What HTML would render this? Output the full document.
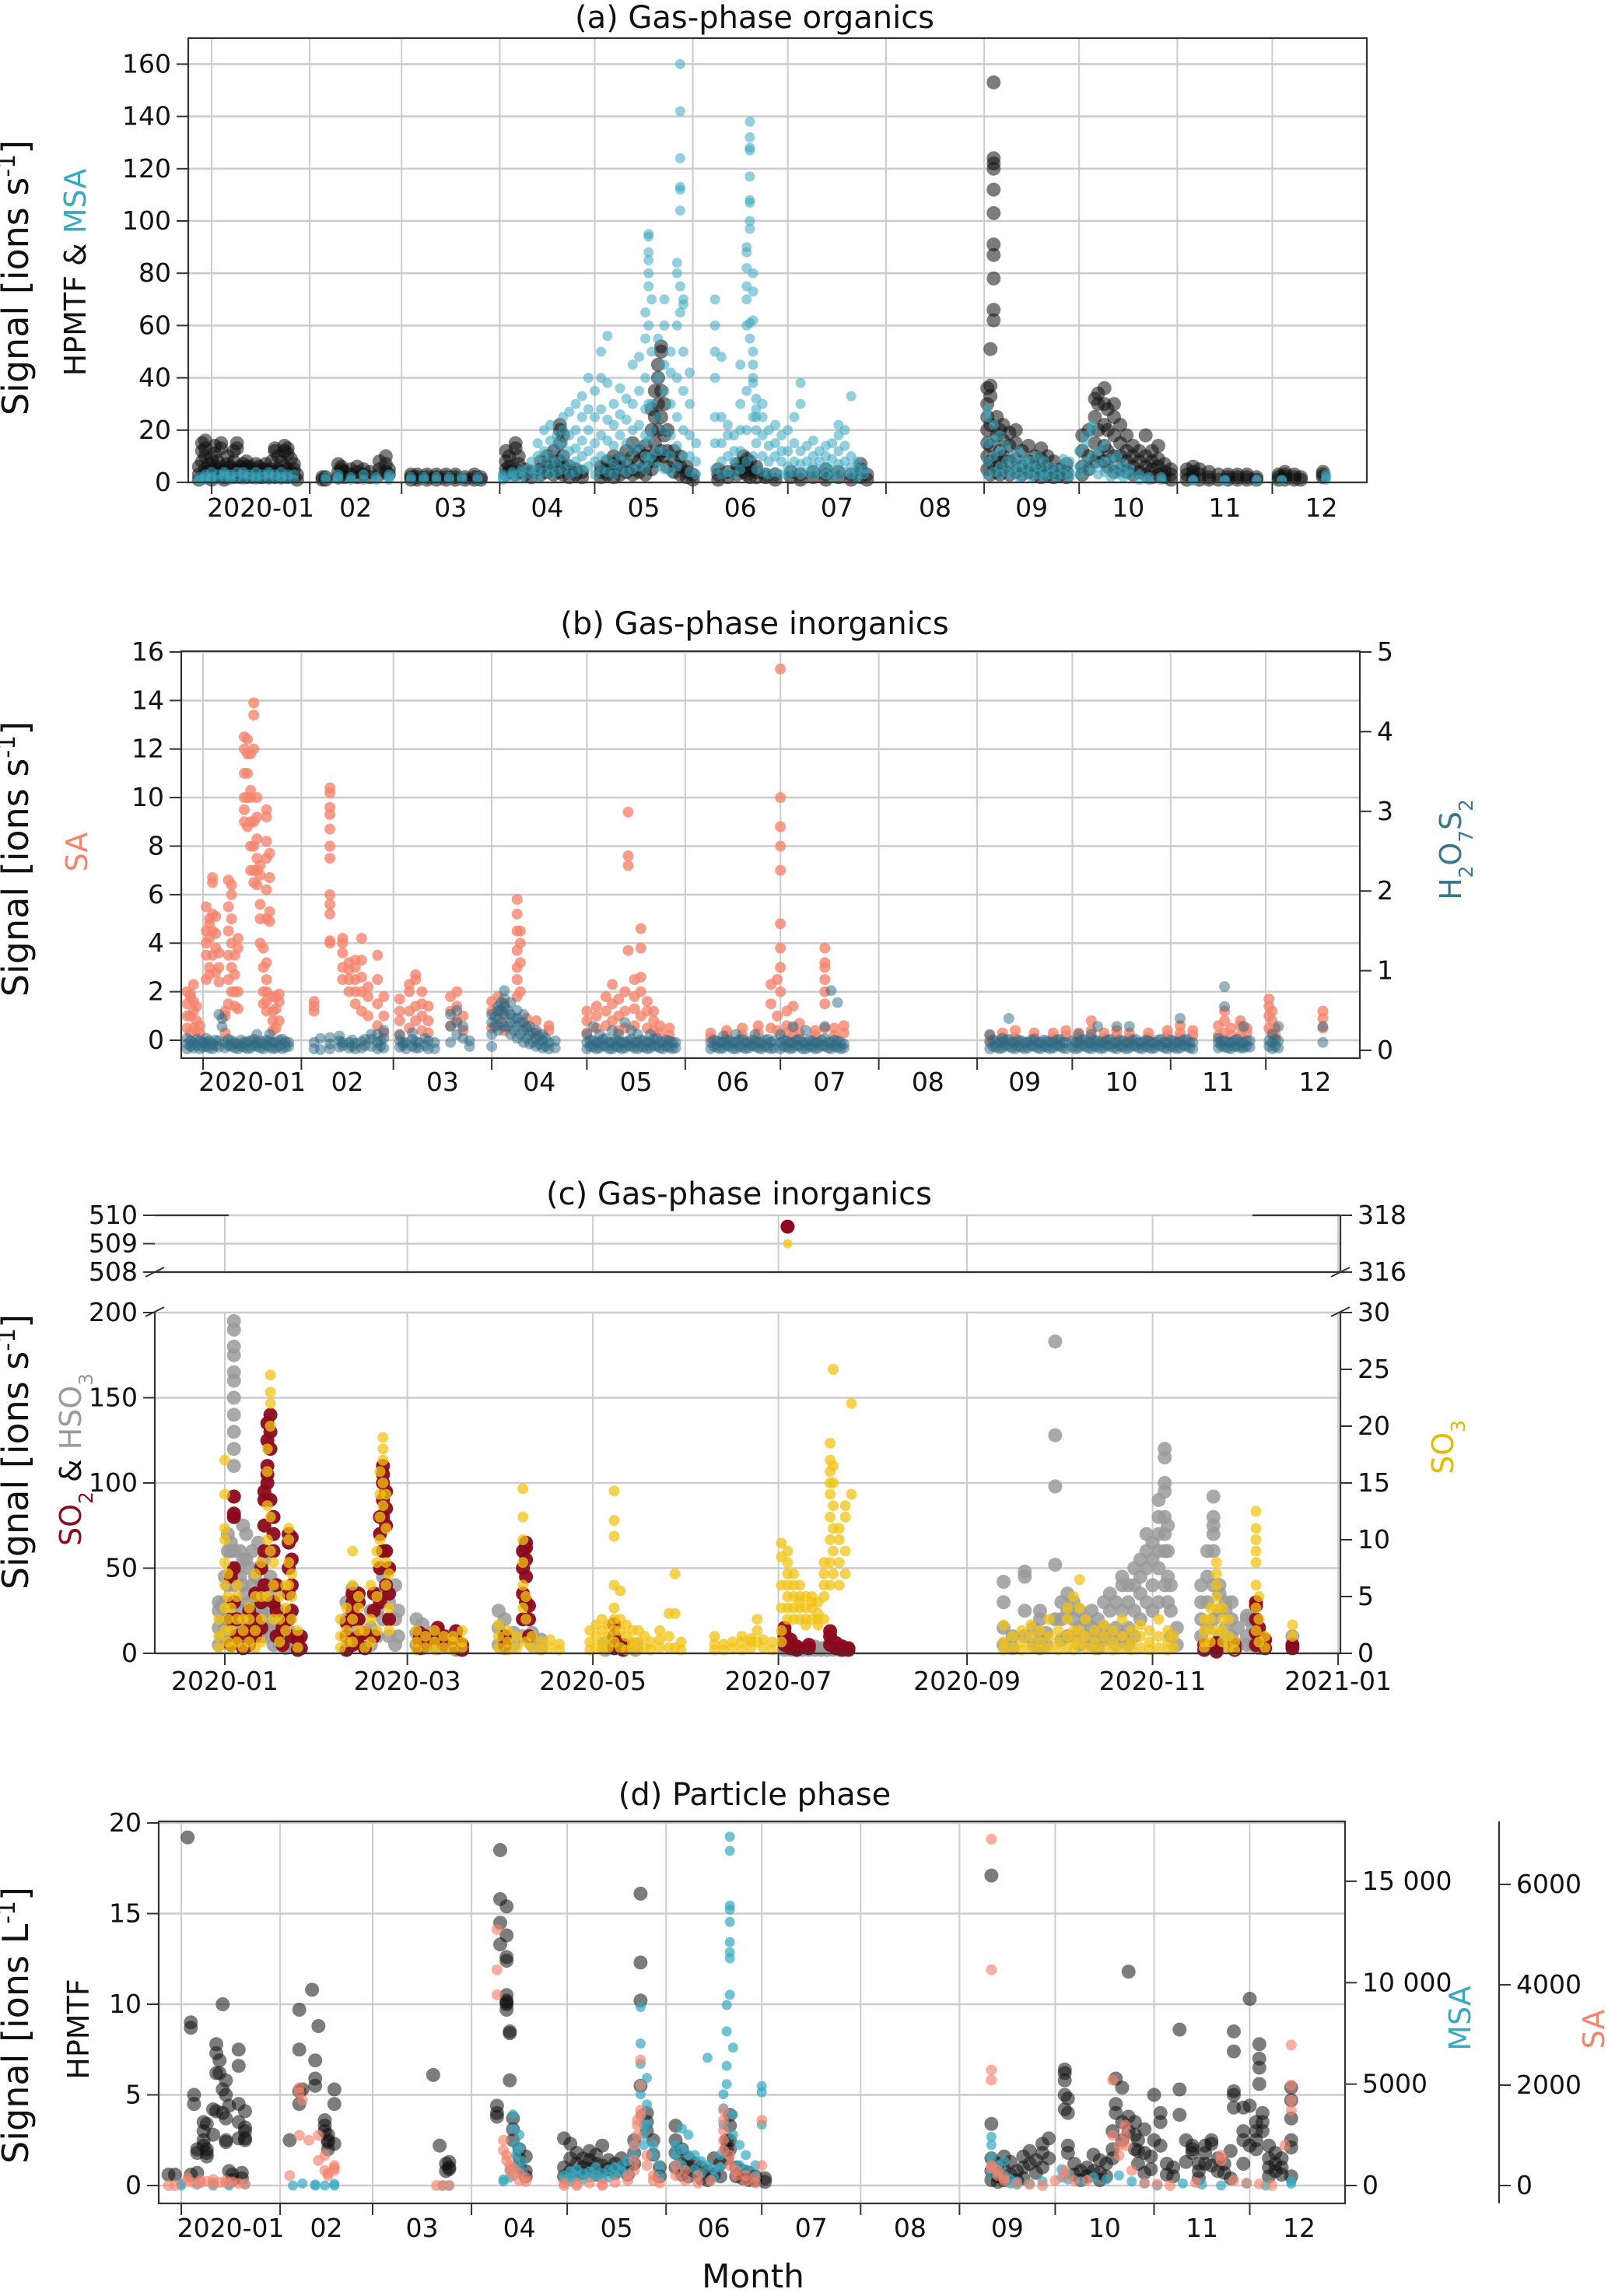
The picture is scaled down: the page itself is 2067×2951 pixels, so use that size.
<!DOCTYPE html>
<html><head><meta charset="utf-8"><style>
html,body{margin:0;padding:0;background:#fff;}
svg{display:block;font-family:"DejaVu Sans","Liberation Sans",sans-serif;}
</style></head><body>
<svg id="fig" width="2067" height="2951" viewBox="0 0 2067 2951" xmlns="http://www.w3.org/2000/svg">
<g id="grid"></g><g id="marks"></g><g id="axes"></g>
</svg>
<script>
// ===== Data (day = days since 2020-01-01) =====
const monthStarts = [0,31,60,91,121,152,182,213,244,274,305,335,366];
const monthLabels = ["2020-01","02","03","04","05","06","07","08","09","10","11","12"];
const cTickDays = [0,60,121,182,244,305,366];
const cTickLabels = ["2020-01","2020-03","2020-05","2020-07","2020-09","2020-11","2021-01"];
const aTicks = [0,20,40,60,80,100,120,140,160];
const bTicks = [0,2,4,6,8,10,12,14,16];
const bRightTicks = [0,1,2,3,4,5];
const cTicks = [0,50,100,150,200];
const cRightTicks = [0,5,10,15,20,25,30];
const cUpperTicks = [508,509,510];
const cUpperRightTicks = [316,318];
const dTicks = [0,5,10,15,20];
const dMsaTicks = [0,5000,10000,15000];
const dMsaTickLabels = ["0","5000","10 000","15 000"];
const dSaTicks = [0,2000,4000,6000];

// Panel (a)
const hpmtfA = [[-4,[1,3,6]],[-3,[2,8,12,15]],[-2,[3,5,10,16,13]],[-1,[2,4,7]],[0,[1,3,5,9]],[1,[2,4,6,11,14]],[2,[3,5,8]],[3,[2,4,6,13,15]],[4,[1,3,5]],[5,[2,4,7,10]],[6,[3,5,6]],[7,[2,4,8,12]],[8,[3,5,15,13]],[9,[2,4,6]],[10,[3,5,7]],[11,[2,4,6,8]],[12,[3,5,6]],[13,[2,4]],[14,[3,5,7]],[15,[2,4,6]],[16,[2,3,5]],[17,[3,5,7]],[18,[2,4]],[19,[3,5,8]],[20,[2,4,13,12]],[21,[3,5,10]],[22,[2,4,8]],[23,[3,6,12,14]],[24,[2,5,11,13]],[25,[3,4,9]],[26,[2,5,7]],[27,[1,3]],
[35,[1,2]],[36,[1,2]],[40,[2,4,7]],[41,[3,5,6]],[42,[2,4]],[44,[3,5]],[46,[2,4,6]],[48,[3,5]],[50,[2,4]],[53,[3,5,8]],[55,[4,7,10]],[56,[3,5]],
[63,[1,2,3]],[65,[1,2,3]],[68,[1,2,3]],[71,[1,2,3]],[74,[1,2,3]],[77,[1,2,3]],[80,[1,2]],[83,[1,2,3]],[85,[1,2]],
[93,[3,5,8,12]],[94,[4,6,10]],[96,[3,5,13,15]],[97,[4,7,10]],[99,[3,5]],[101,[2,4]],[104,[3,5,8]],[106,[4,6,10]],[108,[3,5,8,12]],[110,[4,8,15,20,22]],[111,[3,6,10,18]],[113,[2,4,6]],[115,[3,5]],[117,[2,4]],
[123,[2,4,6]],[125,[3,5,8]],[127,[2,4,7,10]],[129,[3,6,9]],[131,[4,7,12]],[133,[3,5,10,15]],[135,[4,8,12]],[137,[3,6,10,14]],[139,[5,10,20,28]],[140,[8,15,25,35]],[141,[10,20,30,40,45]],[142,[12,25,35,50,52]],[143,[10,18,30]],[144,[6,12,20]],[146,[4,8,12]],[148,[3,6,10]],[150,[2,4,6]],[152,[1,3]],
[160,[1,3,5]],[163,[2,4]],[166,[3,5,7]],[168,[4,7,10]],[169,[3,6,9]],[170,[2,5,8]],[172,[2,4,6]],[175,[2,3]],[178,[1,3]],
[183,[2,4]],[186,[1,3]],[190,[2,4]],[194,[1,3,5]],[198,[2,4]],[202,[1,3]],[205,[2,5,7]],[207,[1,3]],
[245,[5,10,15,20,25,30,36]],[246,[3,8,14,22,33,37,51]],[247,[62,66,78,87,91,103,112,120,122,124,153]],[248,[4,9,18,25]],[249,[3,7,12,20]],[250,[5,10,16,22]],[252,[3,8,14,19]],[254,[4,9,15,20]],[256,[3,6,12]],[258,[4,8,14]],[260,[3,6,10]],[262,[2,5,9,13]],[264,[3,6,10]],[266,[2,4,8]],[268,[3,5]],[270,[2,4,7]],
[275,[3,6,12,18]],[277,[5,10,20]],[279,[8,15,25,32]],[280,[10,20,30,34]],[282,[8,14,22,30,36]],[283,[6,12,20,28]],[285,[4,10,18,25,30]],[287,[5,10,15,22]],[289,[4,8,12,18]],[291,[3,6,10,14]],[293,[4,8,12]],[295,[3,6,10,18]],[297,[2,5,8,12]],[299,[3,6,9,14]],[301,[2,4,7]],[303,[1,3,5]],
[308,[1,3,5]],[310,[2,4,6]],[312,[1,3,5]],[315,[1,2,4]],[318,[1,3]],[321,[1,2,3]],[324,[1,2,3]],[327,[1,2,3]],[330,[1,2]],
[337,[1,2,3]],[339,[1,2,3,4]],[342,[1,2,3]],[344,[1,2]],[351,[2,3,4]]];
const msaA = [[-4,[0.5,1,2]],[-2,[1,2,3]],[0,[1,2,4]],[2,[1,3]],[4,[2,3,4]],[6,[1,2,3]],[8,[2,4]],[10,[1,3,4]],[12,[2,3]],[14,[1,2,4]],[16,[2,3]],[18,[1,3,4]],[20,[2,3]],[22,[1,2,4]],[24,[2,3]],[26,[1,3]],
[36,[1,2]],[40,[1,2,3]],[44,[1,2]],[48,[1,3]],[52,[1,2]],[56,[1,2,3]],
[63,[1,2]],[67,[1,2]],[71,[1,2]],[75,[1,2]],[79,[1,2]],[84,[1,2]],
[92,[1,2,3]],[95,[2,3,4]],[98,[2,4,5]],[101,[3,5,8]],[103,[2,5,10,15]],[105,[4,8,12,20]],[107,[3,6,10,16,22]],[109,[4,8,14,18]],[111,[5,10,15,20,25]],[113,[3,7,12,18,27]],[115,[4,8,13,20,30]],[117,[5,10,16,25,33]],[119,[6,12,20,28,40]],
[121,[3,8,15,25,35]],[123,[5,10,18,28,40,50]],[125,[4,9,16,24,38,56]],[127,[3,7,14,22,30]],[129,[5,10,18,26,36]],[131,[4,8,15,24,32]],[133,[5,12,20,30,45]],[135,[6,14,22,35,48]],[137,[5,10,18,28,40,55,65]],[138,[8,16,30,60,75,80,85,88,95,94]],[139,[10,20,30,50,70]],[141,[6,12,25,40,55]],[143,[5,12,20,35,45,60,70]],[145,[4,10,18,30,42,50]],[147,[6,14,25,40,60,80,84]],[148,[104,112,113,124,142,160,75,65]],[149,[10,20,35,50,68,70]],[151,[4,10,18,30,42]],[153,[3,8,15]],
[159,[5,15,25,40,50,60,70]],[161,[3,8,15,25,48]],[163,[4,10,18,22]],[165,[3,8,12,18]],[167,[5,12,20,30,45]],[169,[8,20,35,60,70,75,82,88,90]],[170,[100,107,108,117,127,128,132,138,97,61,55]],[171,[10,25,40,50,62,73,80,45,38]],[172,[5,15,25,32,28,20]],[174,[4,10,18,25,30]],[176,[3,8,14,20]],[178,[4,10,15,22]],[180,[3,8,12,18]],
[182,[3,6,12,20]],[184,[4,8,15,25]],[186,[3,7,12,38,30]],[188,[4,8,14]],[190,[3,6,10,16]],[192,[4,8,12]],[194,[3,6,10,14]],[196,[2,5,9,15]],[198,[3,7,12,18,22]],[200,[4,8,14,20]],[202,[3,6,10,33]],[204,[2,5,8]],[206,[3,5]],
[245,[3,8,15,25,28]],[247,[4,10,16,22]],[249,[3,6,12,18]],[251,[4,8,14]],[253,[3,6,10]],[255,[2,5,8,12]],[257,[3,6,9]],[259,[2,5,8]],[261,[3,6,10]],[263,[2,4,8]],[265,[3,6]],[267,[2,5]],[269,[3,6,9]],[271,[2,4,8]],
[274,[3,6,12]],[276,[4,8,15,18]],[278,[5,10,20,22]],[280,[3,7,12]],[282,[4,8,14]],[284,[2,5,9]],[286,[3,6,10]],[288,[2,4,7]],[290,[3,5]],[293,[1,3]],[296,[1,2]],[300,[1,2]],
[310,[0.5,1]],[320,[0.5,1]],[330,[0.5,1]],[338,[0.5,1]],[352,[1,2,3]]];

// Panel (b)
const saB = [[-5,[0.5,1,1.5,2]],[-4,[0.3,1,1.8,1.9]],[-3,[0.5,1.2,1.6,2.3]],[-2,[0.4,0.8,1.4]],[-1,[0.3,0.6]],[1,[2.5,3.5,4.5,5.5,4]],[2,[3,4.2,4.8,5,2.7]],[3,[3.5,4.5,6.5,6.7,5.2]],[4,[2.8,3.8,4.4,5.1]],[5,[2.4,3,3.6]],[7,[0.3,1,1.2]],[8,[1.5,2.5,3.5,4.5,5.5,6.6]],[9,[2,3,4,5,6,6.4]],[10,[1.4,2,2.7,3.5]],[11,[1.3,2,3.8,4.2]],[13,[9,10,11,12,12.5,9.5]],[14,[8.8,10,11,11.8,12.4]],[15,[7,8,9,10,10.3,11.8]],[16,[6.5,7,8,9,12,13.4,13.9]],[17,[6.4,7,7.5,8.3,9.2,10]],[18,[4,5,5.6,6.8,7.2]],[19,[1.5,2,3,3.8]],[20,[1.2,1.6,2,2.5,3.2,5,6.2,7.5,8.2,9.2,9.5]],[21,[4.9,5.3,6.7,7.7]],[22,[0.4,0.8,1.2,1.8]],[23,[0.5,1.3,1.8]],[24,[0.8,1.6,1.9]],
[35,[1.2,1.4,1.6]],[40,[4,4.1,5.2,5.6,6,7.5,8,8.7,9.3,9.6,10.2,10.4]],[44,[2.5,3,3.6,4,4.2]],[46,[2,2.5,2.9,3.2]],[48,[1.5,2,2.5,3,3.3]],[50,[1.2,2,2.6,3.3,4.2]],[52,[1,1.8,2.2]],[55,[0.6,1.5,2.5,3.5]],[57,[0.3,1,1.8]],
[62,[0.2,0.8,1.2,1.7]],[65,[0.5,1.2,2,2.3]],[67,[0.8,1.4,2.7,2.5]],[69,[0.4,1,1.5,2]],[71,[0.3,0.8,1.4]],[78,[0.6,1.2,1.8]],[80,[0.8,1.4,2]],[82,[0.4,1]],
[91,[0.5,1.2,1.6]],[93,[0.6,1.2,1.8]],[95,[0.4,1,1.5]],[99,[1.8,2.5,3,3.7,4.5,5.2,5.8]],[100,[2,3.2,4,4.5]],[102,[0.5,0.9]],[105,[0.3,0.8]],[109,[0.4,0.6]],
[121,[0.3,0.8,1.2]],[124,[0.5,1,1.4]],[127,[0.6,1.2,1.8]],[129,[0.8,1.5,2.3]],[131,[0.4,1,1.7]],[133,[0.5,1.2,2]],[134,[3.7,7.2,7.6,9.4]],[136,[0.6,1.3,1.8,2.5]],[138,[1,2,2.6,3.8,4.6]],[140,[0.5,1.2,1.6]],[142,[0.4,0.8,1.2]],[144,[0.3,0.6]],[147,[0.2,0.5]],
[160,[0.1,0.3]],[165,[0.2,0.4]],[170,[0.2,0.5]],[175,[0.3,0.6]],[179,[0.5,1.5,2.3]],[181,[0.4,1,2.5]],
[182,[2,3,3.8,4.8,7,8,8.8,10,15.3]],[184,[0.3,0.6,1.2]],[186,[0.2,0.5,1.4]],[188,[0.3,0.7]],[193,[0.2,0.4]],[196,[0.5,1.5,2,2.5,3,3.2,3.8]],[199,[0.2,0.5]],[202,[0.3,0.6]],
[248,[0,0.2]],[252,[0.1,0.3]],[256,[0.1,0.4]],[262,[0.1,0.3]],[268,[0.1,0.3]],[272,[0.2,0.4]],[276,[0.1,0.3]],[280,[0.1,0.4,0.8]],[284,[0.1,0.3]],[288,[0.2,0.4]],[292,[0.1,0.3]],[298,[0.1,0.3]],[304,[0.2,0.4]],[308,[0.1,0.3,0.6]],[312,[0.2,0.4]],[320,[0.2,0.6]],[322,[0.3,0.8,1.2]],[324,[0.2,0.5]],[327,[0.2,0.6,0.8]],[329,[0.3,0.5]],[336,[0.5,1,1.4,1.7]],[337,[0.3,0.8,1.2]],[338,[0.2,0.5]],[353,[0.5,0.9,1.2]]];
const h2o7s2B = [[-5,[0.02,0.08,0.15]],[-4,[0.05,0.12]],[-3,[0.03,0.1]],[-2,[0.06,0.14]],[-1,[0.02,0.12]],[0,[0.04,0.1]],[1,[0.05,0.1,0.15]],[2,[0.03,0.12]],[3,[0.02,0.08]],[4,[0.06,0.13]],[5,[0.04,0.12,0.45]],[6,[0.3,0.4]],[7,[0.03,0.1]],[8,[0.06,0.14]],[9,[0.05,0.12]],[10,[0.03,0.1]],[11,[0.02,0.08]],[12,[0.05,0.13]],[13,[0.04,0.1]],[14,[0.02,0.11]],[15,[0.03,0.12]],[16,[0.06,0.14]],[17,[0.05,0.1,0.2]],[18,[0.03,0.12]],[19,[0.02,0.09]],[20,[0.06,0.13]],[21,[0.04,0.12,0.2]],[22,[0.02,0.1]],[23,[0.03,0.1]],[24,[0.05,0.13]],[25,[0.02,0.14]],[26,[0.04,0.11]],[27,[0.05,0.1]],
[35,[0.02,0.1]],[37,[0.01,0.15]],[40,[0.02,0.08,0.16]],[43,[0.04,0.12,0.18]],[44,[0.06,0.1]],[46,[0.03,0.1]],[47,[0.05,0.13]],[48,[0.02,0.09]],[50,[0.03,0.11]],[51,[0.06,0.14]],[53,[0.05,0.14,0.2]],[55,[0.02,0.1,0.2]],[56,[0.05,0.12]],[57,[0.03,0.15,0.25]],
[62,[0.04,0.12,0.2]],[63,[0.06,0.1]],[64,[0.02,0.1]],[66,[0.05,0.14,0.22]],[67,[0.03,0.11]],[68,[0.03,0.1]],[70,[0.06,0.15]],[71,[0.02,0.12]],[73,[0.02,0.1]],[78,[0.1,0.3,0.45]],[80,[0.2,0.35,0.5]],[82,[0.15,0.3]],[84,[0.05,0.12]],
[91,[0.05,0.2,0.35,0.45]],[92,[0.3,0.42]],[93,[0.25,0.4,0.5,0.55]],[94,[0.35,0.5,0.6]],[95,[0.3,0.45,0.55,0.65,0.75]],[96,[0.3,0.5]],[97,[0.2,0.35,0.45,0.6]],[98,[0.25,0.4]],[99,[0.15,0.3,0.4,0.5]],[100,[0.2,0.35]],[101,[0.1,0.25,0.35,0.45]],[102,[0.15,0.3]],[103,[0.08,0.2,0.3]],[104,[0.1,0.22]],[105,[0.05,0.15,0.25]],[106,[0.08,0.18]],[107,[0.03,0.12,0.2]],[108,[0.05,0.15]],[109,[0.02,0.1]],[111,[0.03,0.12]],
[121,[0.02,0.1,0.2]],[122,[0.05,0.13]],[123,[0.04,0.12,0.3]],[124,[0.02,0.1]],[125,[0.03,0.1,0.2]],[126,[0.06,0.14]],[127,[0.05,0.15]],[128,[0.02,0.1]],[129,[0.02,0.1,0.25]],[130,[0.05,0.13]],[131,[0.04,0.12,0.2]],[132,[0.02,0.1]],[133,[0.03,0.1,0.35]],[134,[0.06,0.12]],[135,[0.05,0.14,0.25]],[136,[0.03,0.1]],[137,[0.02,0.1,0.2]],[138,[0.05,0.13]],[139,[0.04,0.12]],[140,[0.02,0.1]],[141,[0.03,0.1,0.2]],[142,[0.06,0.14]],[143,[0.05,0.15]],[144,[0.03,0.1]],[145,[0.02,0.1]],[146,[0.05,0.13]],[147,[0.04,0.12]],[148,[0.02,0.1]],[149,[0.03,0.1]],
[160,[0.02,0.1]],[161,[0.05,0.13]],[162,[0.04,0.12]],[163,[0.02,0.1]],[164,[0.03,0.1,0.18]],[165,[0.06,0.13]],[166,[0.05,0.12]],[167,[0.02,0.1]],[168,[0.02,0.1,0.2]],[169,[0.05,0.13]],[170,[0.04,0.14]],[171,[0.02,0.1]],[172,[0.03,0.1]],[173,[0.06,0.13]],[174,[0.05,0.12,0.2]],[175,[0.03,0.1]],[176,[0.02,0.1]],[177,[0.05,0.13]],[178,[0.04,0.14]],[179,[0.02,0.1]],[180,[0.03,0.12]],
[182,[0.02,0.1,0.2]],[183,[0.05,0.13]],[184,[0.04,0.12]],[185,[0.02,0.1]],[186,[0.03,0.1,0.3]],[187,[0.06,0.13]],[188,[0.05,0.14]],[189,[0.02,0.1]],[190,[0.02,0.1,0.25]],[191,[0.05,0.13]],[192,[0.04,0.12]],[193,[0.02,0.1]],[194,[0.03,0.1]],[195,[0.06,0.13]],[196,[0.05,0.15,0.3]],[197,[0.03,0.1]],[198,[0.02,0.1,0.75]],[199,[0.05,0.13]],[200,[0.04,0.12,0.6]],[201,[0.02,0.1]],[202,[0.03,0.08]],
[248,[0.02,0.1,0.2]],[249,[0.05,0.13]],[250,[0.04,0.12]],[251,[0.02,0.1]],[252,[0.03,0.1,0.15]],[253,[0.06,0.13]],[254,[0.05,0.14,0.4]],[255,[0.03,0.1]],[256,[0.02,0.1]],[257,[0.05,0.13]],[258,[0.04,0.12]],[259,[0.02,0.1]],[260,[0.03,0.1]],[261,[0.06,0.13]],[262,[0.05,0.14]],[263,[0.03,0.1]],[264,[0.02,0.1]],[265,[0.05,0.13]],[266,[0.04,0.12]],[267,[0.02,0.1]],[268,[0.03,0.1]],[269,[0.06,0.13]],[270,[0.05,0.14]],[271,[0.03,0.1]],[272,[0.02,0.1]],
[274,[0.04,0.12]],[275,[0.02,0.1]],[276,[0.03,0.1,0.2]],[277,[0.06,0.13]],[278,[0.05,0.14]],[279,[0.03,0.1]],[280,[0.02,0.1,0.2]],[281,[0.05,0.13]],[282,[0.04,0.12,0.3]],[283,[0.02,0.1]],[284,[0.03,0.1]],[285,[0.06,0.13]],[286,[0.05,0.14]],[287,[0.03,0.1]],[288,[0.02,0.1,0.3]],[289,[0.05,0.13]],[290,[0.04,0.12]],[291,[0.02,0.1]],[292,[0.03,0.1,0.3]],[293,[0.06,0.13]],[294,[0.05,0.14]],[295,[0.03,0.1]],[296,[0.02,0.1]],[297,[0.05,0.13]],[298,[0.04,0.12]],[299,[0.02,0.1]],[300,[0.03,0.1]],[301,[0.06,0.13]],[302,[0.05,0.14]],
[303,[0.03,0.1]],[304,[0.02,0.1]],[305,[0.05,0.13]],[306,[0.04,0.12]],[307,[0.02,0.1]],[308,[0.03,0.1,0.4]],[309,[0.06,0.13]],[310,[0.05,0.14]],[311,[0.03,0.1]],[312,[0.02,0.1]],
[320,[0.03,0.1,0.15]],[321,[0.06,0.12]],[322,[0.04,0.12,0.8,0.55]],[323,[0.03,0.1]],[324,[0.02,0.1]],[325,[0.05,0.12]],[326,[0.05,0.14]],[327,[0.03,0.1]],[328,[0.03,0.1,0.3]],[329,[0.05,0.12]],[330,[0.04,0.12]],[336,[0.05,0.12]],[337,[0.02,0.1,0.2]],[338,[0.05,0.14]],[339,[0.03,0.12,0.3]],[353,[0.1,0.3]]];

// Panel (c)
const hso3C = [[-2,[5,15,25,30]],[-1,[10,20,28]],[0,[15,30,45]],[1,[20,40,60,70]],[2,[10,25,45,60,65]],[3,[40,60,80,110,120,130,140,150,160,165,175,180,190,195]],[4,[15,30,50]],[5,[10,25,45,60]],[6,[20,40,55,75]],[7,[15,35,55,70]],[8,[10,30,50]],[9,[20,40,60]],[10,[10,25,45]],[11,[15,30,50,65]],[12,[10,25,40]],[13,[20,35,55]],[14,[10,25,40]],[15,[15,30,45]],[16,[5,15,30]],[17,[10,20,35]],[18,[5,15,25]],[19,[10,20]],[20,[3,10,20]],[22,[5,12]],[24,[2,8]],
[40,[2,10,20,30]],[42,[5,15,25,38]],[44,[10,20,30]],[46,[3,12]],[48,[5,15,25]],[50,[10,25,35]],[52,[20,35,45]],[54,[10,30,50]],[56,[5,20,40]],[57,[10,25]],
[63,[5,12,20]],[65,[3,10,17]],[68,[5,12]],[70,[3,8]],[73,[4,10]],[76,[2,6]],
[90,[5,15,25]],[92,[3,10,20]],[95,[5,12]],[98,[10,20]],[101,[5,12]],[104,[3,8]],
[125,[2,6]],[135,[2,5]],
[184,[2,3,4]],[186,[2,3]],[188,[2,3,4]],[190,[2,3]],[192,[2,3]],[194,[2,3,4]],[196,[2,3]],[198,[2,4]],[200,[2,3]],[202,[2,3]],
[256,[5,15,30,42]],[259,[3,10]],[263,[10,25,45,48]],[266,[5,15]],[268,[3,10,20,25]],[270,[5,12]],[273,[20,52,98,128,183]],[275,[8,20,30]],[277,[10,25,35]],[279,[10,20,30]],[281,[5,15,25]],[283,[10,20]],[285,[5,15,25]],[287,[3,12,20]],[289,[8,15,30]],[291,[10,25,35]],[293,[5,15,30]],[295,[10,25,40,45]],[297,[5,15,30,40]],[299,[10,25,40,50]],[301,[20,35,45,55]],[303,[30,50,60,70]],[305,[25,40,55,65]],[307,[30,50,60,70,80,90]],[309,[40,60,70,80,95,100,115,120]],[310,[30,45,60,75]],[311,[10,25,40]],[313,[5,15]],[321,[10,20,30,40]],[323,[15,30,45,60]],[325,[20,40,60,70,75,80,92]],[327,[10,25,35,40]],[329,[5,15,25,30]],[331,[10,20,30]],[333,[5,15]],[336,[5,10,20,22]],[338,[5,15,20]],[340,[3,10]],[351,[5,10]]];
const so2C = [[2,[5,20,45]],[3,[50,80,82,92,30]],[4,[10,20]],[6,[3,12]],[8,[5,15,25]],[10,[10,20,35]],[12,[15,30,50]],[13,[40,60,75,90,95]],[14,[100,105,110,125,135]],[15,[120,130,140,90]],[16,[60,70,80,30]],[17,[10,25,40]],[19,[5,15]],[21,[20,35,50,65,70]],[22,[10,25,40,55,68]],[24,[2,8]],[25,[3,10]],
[40,[2,10,18]],[42,[5,20,30,35,25]],[44,[10,20,30,35]],[46,[3,12]],[49,[10,25,35]],[51,[30,50,70,80]],[52,[80,90,100,105,110,60]],[53,[40,60,75,85,95]],[54,[20,35,50]],
[64,[3,8,12]],[66,[5,10]],[70,[8,12,15]],[72,[5,10]],[76,[3,8,13]],[78,[2,5]],
[92,[5,10]],[98,[20,35,50,60]],[99,[30,45,55,65,62]],[100,[10,20,28]],
[128,[3,10,17]],[131,[2,5]],
[184,[5,10,15,12]],[186,[3,6,8]],[188,[2,4]],[192,[3,5]],[199,[5,10,13]],[201,[3,6]],[203,[2,4]],[205,[2,3]],
[322,[2,5]],[326,[1,3,6]],[332,[2,5]],[339,[5,12,20,28,30]],[340,[10,15]],[342,[3,8]],[351,[3,5]]];
const so3C = [[-2,[0.5,1.5,3]],[0,[2,4,6,8,10,14,17,11]],[1,[1,3,5,7]],[2,[0.5,2,4]],[4,[1,3,5,6]],[6,[0.5,2,3]],[8,[1,3,4]],[10,[0.5,2,5,7]],[12,[1,3,5,8]],[14,[5,10,13,16,18]],[15,[20,22,23,24.5,12,9]],[16,[3,6,8]],[18,[1,3,5]],[20,[2,4,6]],[21,[6,8,10,11]],[22,[3,5,7]],[24,[0.5,2]],
[38,[0.5,1.5,3]],[40,[1,2,4]],[42,[1,3,6,9]],[44,[2,4,5]],[46,[0.5,2]],[48,[1,3,6]],[50,[2,5,8,9]],[51,[10,12,14,16]],[52,[15,17,18,19,13]],[53,[6,8,11,14]],[54,[2,4,7]],
[63,[0.3,1,2]],[66,[0.5,1.5]],[69,[0.3,1,2]],[72,[0.5,1.5]],[75,[0.3,1,1.5]],[78,[0.5,1,2]],
[90,[0.5,1.5,2.5]],[93,[0.3,1,2]],[96,[0.5,1.5]],[98,[4,6,8,10,12,14.5]],[99,[1,3,5]],[101,[0.5,1.5]],[104,[0.3,1]],[107,[0.5,1.2]],[110,[0.3,0.8]],
[120,[0.3,1,2]],[122,[0.5,1.5,2.5]],[124,[0.3,1,2,3]],[126,[0.5,1.5,2.5]],[128,[1,2,3,4,6,10.3,11.7,14.3]],[130,[0.5,2,3,5.5]],[132,[0.3,1.5,2.5]],[134,[0.5,1,2]],[136,[0.3,1,2]],[138,[0.5,1.5]],[140,[0.3,1]],[143,[0.5,1.2,2]],[146,[0.5,1.5,3.5]],[148,[0.5,3.5,7]],[150,[0.3,1]],
[161,[0.3,0.8,1.5]],[164,[0.3,0.8]],[167,[0.5,1]],[170,[0.3,1,1.5]],[173,[0.5,1,1.3]],[175,[1,2,3]],[177,[0.5,1.2]],[180,[0.3,1]],
[183,[1,2,4,6,8.5,9.7]],[185,[3,4,5,6,7,8,9]],[187,[3,4,5,6,7]],[189,[3,4,4.5,5,6]],[191,[2.5,3,4,5]],[193,[3,4,4.5,5]],[195,[2.5,3,3.5,4.5]],[197,[3,5,6,7,8]],[199,[6,8,10,12,14,15,16,17,18.5]],[200,[7,9,11,13,15,16.5,25]],[202,[6,8,10,11]],[204,[7,9,12,13]],[206,[14,22]],
[256,[0.3,1,2.5]],[259,[0.5,1.5]],[262,[0.3,1,2]],[265,[0.5,1.5,2.5]],[268,[0.3,1,2]],[271,[0.5,1.5,3]],[274,[0.3,1,2]],[277,[0.5,1.5,3,4]],[279,[0.3,1,2,5]],[281,[1,2,4,6.5]],[283,[0.5,1.5,3]],[286,[0.3,1,2]],[289,[0.5,1.5,2.5]],[292,[0.3,1,2]],[295,[0.5,1.5,3]],[298,[0.3,1,2]],[301,[0.5,1.5,2.5]],[304,[0.3,1,2]],[307,[0.5,1.5,3]],[310,[0.3,1,2]],[312,[0.5,1.5]],
[322,[0.5,1,2,3]],[324,[1,2,3,4]],[326,[2,4,5,6,7,8]],[328,[1,2,3,4]],[330,[0.5,1.5,3]],[332,[0.3,1]],[339,[2,4,6,8,9,10,11,12.5]],[340,[1,3,5]],[342,[0.5,1.5]],[351,[1.5,2.5]]];
const so2Upper = [[185,[509.6]]];
const so3Upper = [[185,[509.0]]];

// Panel (d)
const hpmtfD = [[-4,[0.6]],[-2,[0.6]],[2,[19.2]],[3,[9,8.7,0.6]],[4,[5,4.5]],[5,[2,1.8,0.7]],[7,[3.5,3,2.5,2.2]],[8,[3.4,2,1.8,1.6]],[10,[2.8,4.2]],[11,[7.8,7.3,6.2,4.1]],[12,[6.2,6.9]],[13,[5.3,10,4]],[14,[5.8,5,3.7,2.5,2.4]],[15,[4.4,0.8]],[16,[0.6,0.3]],[18,[4.5,3.5,2.6,6.6,7.5]],[19,[0.7,0.4]],[20,[3.2,3,2.6,2.5,4.1]],
[34,[2.5]],[37,[9.7,7.5,5.2,4.5]],[38,[5.3]],[41,[10.8]],[42,[6.9,5.9,5.5]],[43,[8.8]],[45,[3.6,3.3,3]],[46,[2.8,2.5,2.4,2]],[48,[5.3,4.5,2.3]],
[79,[6.1]],[81,[2.2]],[83,[1.2,0.8]],[84,[1,0.9,1.3]],
[99,[4.4,4,3.8]],[100,[18.5,15.8,14.5,13.3]],[102,[15.4,13.8,12.6,12.4,10.2,10,10.1,10.5,9.7]],[103,[8.5,8.4,5.8]],[104,[3.7,3.1,2.5]],[106,[2,1.5,1]],[108,[0.8,0.5,1.6]],
[120,[2.6,1,0.5]],[122,[2.3,1.5,0.8]],[124,[1.8,1.2,0.6]],[126,[1.5,1,0.7]],[128,[1.9,1.4,0.9]],[130,[1.7,1.2,0.6]],[132,[2.2,1.1,0.8]],[134,[1.4,0.9]],[136,[1.2,0.7]],[138,[1.5,1]],[140,[1.1,0.6]],[142,[1.8,1.2,2.5]],[144,[16.1,12.3,10.2,5.5]],[146,[4,3.5,3]],[148,[2.5,1.7]],[150,[0.5,1]],
[155,[3.3,2.5,1.8,1]],[157,[2,1.2,0.6]],[159,[1.5,1,0.5]],[161,[1.2,0.8]],[163,[1,0.4]],[165,[0.8,0.3]],[167,[1.5,0.6]],[169,[1.2,0.5]],[171,[2.5,2,1.5]],[172,[3.9,3.3,2.5,2]],[174,[1,0.5]],[176,[0.8,0.4]],[178,[0.7,0.3]],[180,[0.5,0.3]],[183,[0.4,0.2]],
[254,[17.1,3.4,1.5,0.8,0.3]],[256,[1.2,0.5,0.2]],[258,[1.6,0.9,0.3]],[260,[1.3,0.6]],[262,[0.8,0.3]],[264,[1.6,1,0.4]],[266,[1.9,1.2]],[268,[1.4,0.7]],[270,[2.3,1.8,1]],[272,[2.6,1.5]],
[277,[6.4,6.2,5.8,5,4.2]],[278,[4.8,4,2.2,1.8]],[280,[1.2,0.6]],[282,[0.8,0.3]],[284,[1,0.5]],[286,[1.7,0.8]],[288,[1.4,0.7,0.3]],[290,[1.2,0.5]],[292,[3,2,1.5]],[293,[5.9,4.5,4]],[295,[5.4,3.5,2.5]],[297,[11.8,3.8,3]],[299,[3.5,2.8,2]],[300,[2.5,1.9,1.2]],
[302,[3.1,1.8,0.7]],[304,[1.6,0.9]],[305,[5,2.5]],[307,[4,3.5,2.2]],[309,[1.2,0.6]],[311,[1,0.5]],[313,[8.6,5.3,3.9]],[315,[2.5,1.3]],[317,[2.2,2,1.8]],[319,[1.2,0.8,0.4]],[321,[2.2,1.8,1.2]],[323,[2.5,2.3,1.1]],[325,[1.5,0.8]],[327,[0.7,1.2]],[329,[0.4,1.9]],
[330,[8.5,7.4,5.2,5,4.3]],[333,[4.3,3,2.5,1.2]],[335,[10.3,4.4,2.2]],[337,[3.5,3,2.5,2]],[338,[7.8,7,6.5,5.6]],[339,[4,3.5,3]],[341,[2.2,1.5,1,0.5]],[343,[1.8,1.2,0.8]],[345,[1.5,1,0.6]],[348,[5.4,4.7,3.7,2.5,2.1,0.5]]];
const msaD = [[0,[0,100]],[5,[50]],[10,[0,150]],[15,[100,0]],[20,[50]],[35,[0]],[38,[100]],[42,[50,0]],[45,[0]],[48,[0,80]],[82,[0]],[84,[0]],[101,[200,300]],[103,[400,800]],[104,[3500,2800]],[105,[2000,1500,1000]],[106,[2500,1800]],[107,[1200,700]],
[120,[300,500]],[122,[400,700,200]],[124,[500,800]],[126,[300,600]],[128,[700,400]],[130,[500,900]],[132,[600,300]],[134,[800,400]],[136,[900,500]],[138,[700,1000]],[140,[1200,600]],[142,[1500,2000]],[144,[8800,7000,6000,5000,4500,3500]],[145,[3000,2500,2000]],[146,[5300,4000,3000]],[148,[2000,1500]],[150,[1000,500]],
[155,[2000,1500,1000]],[157,[2800,1800,1000]],[159,[2500,1500]],[161,[1500,800]],[163,[1200,600]],[165,[6300,1000]],[167,[800,400]],[169,[1500,900]],[170,[4500,3800,3000]],[171,[8900,7600,5900,5000]],[172,[17200,16500,13800,13600,13000,12000,11500,11200,9400]],[173,[6800,3500,2500]],[175,[2000,1000]],[177,[1500,800]],[180,[1000,500]],[182,[4900,4600,3000]],
[254,[2400,2000,1400,1000,600]],[256,[1000,600]],[258,[1200,500]],[260,[300,100]],[262,[200,50]],[266,[100]],[270,[200]],[276,[400,800]],[278,[600,300]],[282,[200]],[286,[400]],[290,[300]],[294,[500]],[298,[200]],[302,[100]],[306,[0]],[314,[100]],[320,[50]],[326,[0]],[334,[100]],[340,[0]],[348,[100,200]]];
const saD = [[-4,[0]],[-2,[0]],[2,[80,150]],[4,[50]],[6,[100,50]],[8,[80]],[10,[120,40]],[12,[60]],[14,[100,50]],[16,[70]],[18,[40]],[20,[30]],[34,[200]],[37,[1950,1850,1000]],[38,[1700]],[40,[900]],[43,[500,1000]],[45,[300,600]],[46,[250,200]],[48,[300,350,400]],[80,[0]],[82,[0]],[84,[0]],
[99,[5100,4300,3800]],[101,[900,700]],[102,[600,500]],[103,[400,300]],[104,[350,200]],[106,[250,100]],[108,[150,80]],
[120,[0,50]],[124,[0,40]],[128,[50]],[132,[0,30]],[136,[60]],[140,[100,200]],[142,[300,500,800]],[143,[1000,1200,1300]],[144,[2500,2000,1500,1400]],[146,[600,400]],[148,[200,100]],[150,[50]],
[155,[400,200]],[158,[300,100]],[162,[200,50]],[166,[100]],[170,[1500,1300,1100,900,700]],[172,[600,400]],[174,[300,200]],[177,[200,100]],[180,[150,50]],[182,[1300,400]],
[254,[6900,4300,2300,2100,400,350]],[256,[300,200]],[258,[150,100]],[262,[50]],[266,[20]],[270,[0]],[274,[100]],[277,[300,200]],[280,[100]],[284,[100]],[292,[2100,1000]],[294,[800,600]],[296,[1200,1000,800]],[298,[300]],[302,[50]],[306,[30]],[310,[0]],[318,[60]],[326,[600,500]],[330,[100]],[334,[50]],[338,[30]],[342,[0]],[346,[800]],[348,[2800,2000,1700,1500]]];

// ===== Rendering =====
const NS = "http://www.w3.org/2000/svg";
const gGrid = document.getElementById('grid');
const gMarks = document.getElementById('marks');
const gAxes = document.getElementById('axes');
function mk(tag, attrs, parent){ const e=document.createElementNS(NS,tag); for(const k in attrs) e.setAttribute(k,attrs[k]); parent.appendChild(e); return e; }
function line(x1,y1,x2,y2,stroke,w,parent,name){ const e=mk('line',{x1:x1,y1:y1,x2:x2,y2:y2,stroke:stroke,'stroke-width':w},parent);
 
 
 return e; }
function text(x,y,str,size,anchor,fill,parent,name){ const e=mk('text',{x:x,y:y,'font-size':size,'text-anchor':anchor,fill:fill},parent); e.textContent=str;
 
 
 return e; }
function scatter(data, xf, yf, r, fill, op, name){
 const g=mk('g',{},gMarks);
 
 
 data.forEach(([d,vals])=>{ vals.forEach(v=>{
   const c=mk('circle',{cx:xf(d).toFixed(1),cy:yf(v).toFixed(1),r:r,fill:fill,'fill-opacity':op},g);
   
   
 });});
}
const GRID='#cccccc';
function box(l,t,r,b,name){ const e=mk('rect',{x:l,y:t,width:r-l,height:b-t,fill:'none',stroke:'#333','stroke-width':2.2},gAxes);
 
  }
function yTicksLeft(ticks,yf,l,t,r,labels,name,grid){ ticks.forEach((v,i)=>{ const y=yf(v);
  if(grid) line(l,y,r,y,GRID,2.5,gGrid,name+'-gridline');
  line(l-15,y,l,y,'#333',2,gAxes,name+'-tick');
  text(l-22,y+11,labels?labels[i]:String(v),33,'end','#111',gAxes,name+'-tick-label'); }); }
function yTicksRight(ticks,yf,r,labels,name){ ticks.forEach((v,i)=>{ const y=yf(v);
  line(r,y,r+15,y,'#333',2,gAxes,name+'-tick');
  text(r+22,y+11,labels?labels[i]:String(v),33,'start','#111',gAxes,name+'-tick-label'); }); }
function monthAxis(xf,t,b,name,labelY){ monthStarts.forEach((d,i)=>{ const x=xf(d);
  if(i<12) line(x,t,x,b,GRID,2,gGrid,name+'-month-gridline');
  if(i<12) line(x,b,x,b+15,'#333',2,gAxes,name+'-month-tick');
  if(i<12) text(xf((d+monthStarts[i+1])/2),labelY,monthLabels[i],33,'middle','#111',gAxes,name+'-month-label'); }); }
function ylabel(x,y,parts,size,name){ const e=mk('text',{x:x,y:y,'font-size':size,'text-anchor':'middle',transform:'rotate(-90 '+x+' '+y+')'},gAxes);
 
 
 parts.forEach(p=>{ const s=mk('tspan',{fill:p[1]},e); if(p[2]) { s.setAttribute('baseline-shift', p[2]); s.setAttribute('font-size', size*0.65); } s.textContent=p[0]; }); }

// ---- Panel (a)
const xA = d => 272 + d*4.07;
const yA = v => 620 - v*3.36;
text(970,36,'(a) Gas-phase organics',40,'middle','#111',gAxes,'panel-a-title');
yTicksLeft(aTicks,yA,242,49,1757,null,'panel-a-y',true);
monthAxis(xA,49,620,'panel-a',664);
scatter(hpmtfA,xA,yA,9,'#111',0.55,'panel-a-hpmtf');
scatter(msaA,xA,yA,6.5,'#3aa8c1',0.55,'panel-a-msa');
box(242,49,1757,620,'panel-a-frame');
ylabel(36,357,[['Signal [ions s','#111'],['-1','#111','super'],[']','#111']],46,'panel-a-y-axis-title');
ylabel(110,350,[['HPMTF & ','#111'],['MSA','#3aa8c1']],38,'panel-a-y-axis-subtitle');

// ---- Panel (b)
const xB = d => 261 + d*4.078;
const yB = v => 1337 - v*31.19;
const yBR = v => 1350 - v*102.4;
text(970,815,'(b) Gas-phase inorganics',40,'middle','#111',gAxes,'panel-b-title');
yTicksLeft(bTicks,yB,233,837,1748,null,'panel-b-y',true);
yTicksRight(bRightTicks,yBR,1748,null,'panel-b-y-right');
monthAxis(xB,837,1360,'panel-b',1402);
scatter(saB,xB,yB,7,'#f4846e',0.8,'panel-b-sa');
scatter(h2o7s2B,xB,yBR,7,'#2c6882',0.5,'panel-b-h2o7s2');
box(233,837,1748,1360,'panel-b-frame');
ylabel(36,1104,[['Signal [ions s','#111'],['-1','#111','super'],[']','#111']],46,'panel-b-y-axis-title');
ylabel(112,1095,[['SA','#f4846e']],38,'panel-b-y-axis-subtitle');
ylabel(1878,1092,[['H','#3a7690'],['2','#3a7690','sub'],['O','#3a7690'],['7','#3a7690','sub'],['S','#3a7690'],['2','#3a7690','sub']],38,'panel-b-right-axis-title');

// ---- Panel (c)
const xC = d => 289 + d*3.91;
const yC = v => 2125 - v*2.19;
const yCR = v => 2125 - v*14.6;
const yCU = v => 1635 - (v-508)*36.5;
text(950,1548,'(c) Gas-phase inorganics',40,'middle','#111',gAxes,'panel-c-title');
cTickDays.forEach((d,i)=>{ const x=xC(d);
 line(x,1562,x,1635,GRID,2,gGrid,'panel-c-upper-gridline');
 line(x,1686,x,2125,GRID,2,gGrid,'panel-c-gridline');
 line(x,2125,x,2140,'#333',2,gAxes,'panel-c-x-tick');
 text(x,2172,cTickLabels[i],33,'middle','#111',gAxes,'panel-c-x-tick-label'); });
yTicksLeft(cTicks,yC,199,1686,1723,null,'panel-c-y',true);
yTicksRight(cRightTicks,yCR,1723,null,'panel-c-y-right');
cUpperTicks.forEach(v=>{ const y=yCU(v); line(199,y,1723,y,GRID,2.5,gGrid,'panel-c-upper-gridline');
 line(184,y,199,y,'#333',2,gAxes,'panel-c-upper-tick'); text(177,y+11,String(v),33,'end','#111',gAxes,'panel-c-upper-tick-label'); });
yTicksRight(cUpperRightTicks,v=>1635-(v-316)*36.5,1723,null,'panel-c-upper-right');
line(199,1635,1723,1635,'#333',2.2,gAxes,'panel-c-upper-bottom-spine');
line(199,1562,294,1562,'#333',2.2,gAxes,'panel-c-upper-top-spine-left');
line(1610,1562,1723,1562,'#333',2.2,gAxes,'panel-c-upper-top-spine-right');
line(1723,1562,1723,1635,'#333',2.2,gAxes,'panel-c-upper-right-spine');
line(199,2125,1723,2125,'#333',2.2,gAxes,'panel-c-bottom-spine');
line(199,1686,199,2125,'#333',2.2,gAxes,'panel-c-left-spine');
line(1723,1686,1723,2125,'#333',2.2,gAxes,'panel-c-right-spine');
[[199,1635],[1723,1635],[199,1686],[1723,1686]].forEach(p=>line(p[0]-12,p[1]+6,p[0]+12,p[1]-6,'#333',2,gAxes,'axis-break-mark'));
scatter(hso3C,xC,yC,9,'#9a9a9a',0.85,'panel-c-hso3');
scatter(so2C,xC,yC,9,'#8b0a1c',0.95,'panel-c-so2');
scatter(so3C,xC,yCR,7,'#f2c316',0.75,'panel-c-so3');
scatter(so2Upper,xC,yCU,9,'#8b0a1c',1,'panel-c-so2-outlier');
scatter(so3Upper,xC,yCU,6,'#f2c316',0.8,'panel-c-so3-outlier');
ylabel(36,1866,[['Signal [ions s','#111'],['-1','#111','super'],[']','#111']],46,'panel-c-y-axis-title');
ylabel(104,1876,[['SO','#8b0a1c'],['2','#8b0a1c','sub'],[' & ','#111'],['HSO','#9a9a9a'],['3','#9a9a9a','sub']],38,'panel-c-y-axis-subtitle');
ylabel(1868,1860,[['SO','#e8b800'],['3','#e8b800','sub']],38,'panel-c-right-axis-title');

// ---- Panel (d)
const xD = d => 233 + d*4.10;
const yD = v => 2809 - v*23.3;
const yDM = v => 2809 - v*0.02607;
const yDS = v => 2809 - v*0.0645;
text(970,2320,'(d) Particle phase',40,'middle','#111',gAxes,'panel-d-title');
yTicksLeft(dTicks,yD,204,2341,1729,null,'panel-d-y',true);
yTicksRight(dMsaTicks,yDM,1729,dMsaTickLabels,'panel-d-msa');
yTicksRight(dSaTicks,yDS,1927,null,'panel-d-sa');
line(1927,2341,1927,2832,'#333',2.2,gAxes,'panel-d-sa-spine');
monthAxis(xD,2341,2832,'panel-d',2875);
scatter(hpmtfD,xD,yD,9,'#111',0.55,'panel-d-hpmtf');
scatter(msaD,xD,yDM,6.5,'#37a8c0',0.7,'panel-d-msa');
scatter(saD,xD,yDS,7,'#f4846e',0.65,'panel-d-sa');
box(204,2341,1729,2832,'panel-d-frame');
ylabel(36,2603,[['Signal [ions L','#111'],['-1','#111','super'],[']','#111']],46,'panel-d-y-axis-title');
ylabel(114,2608,[['HPMTF','#111']],38,'panel-d-y-axis-subtitle');
ylabel(1890,2594,[['MSA','#3aa8c1']],38,'panel-d-msa-axis-title');
ylabel(2062,2608,[['SA','#f4846e']],38,'panel-d-sa-axis-title');
text(968,2940,'Month',42,'middle','#111',gAxes,'x-axis-title');
</script>
</body></html>
